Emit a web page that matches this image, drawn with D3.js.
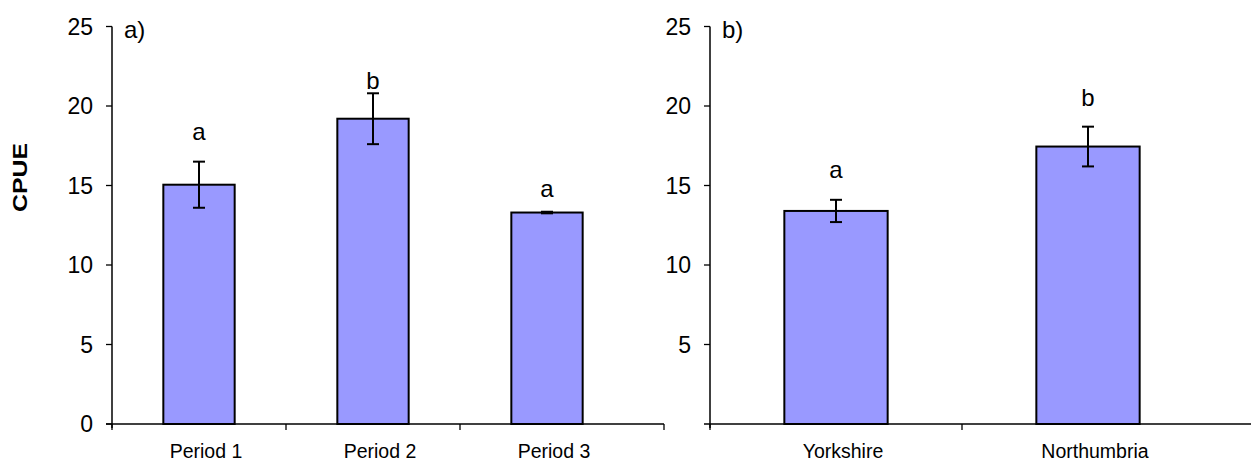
<!DOCTYPE html>
<html>
<head>
<meta charset="UTF-8">
<title>CPUE</title>
<script src="https://d3js.org/d3.v7.min.js"></script>
<style>
body { margin: 0; background: #fff; }
svg { display: block; font-family: Arial, "Liberation Sans", sans-serif; }
</style>
</head>
<body>
<script>
// panel a)
var periods = ["Period 1", "Period 2", "Period 3"];
var periodCpue = [15.05, 19.2, 13.3];
var periodErr = [1.45, 1.6, 0.05];
var periodSig = ["a", "b", "a"];
var periodSigAt = [17.85, 21.1, 14.3];   // CPUE level of each letter

// panel b)
var regions = ["Yorkshire", "Northumbria"];
var regionCpue = [13.4, 17.45];
var regionErr = [0.7, 1.25];
var regionSig = ["a", "b"];
var regionSigAt = [15.45, 20.0];

var yTicksA = [0, 5, 10, 15, 20, 25];
var yTicksB = [5, 10, 15, 20, 25];

var width = 1251, height = 462;
var svg = d3.select("body").append("svg")
    .attr("width", width)
    .attr("height", height);

var y = d3.scaleLinear().domain([0, 25]).range([424, 26.5]);

svg.append("text")
    .attr("transform", "translate(27,177.5) rotate(-90)")
    .attr("text-anchor", "middle")
    .attr("font-size", 21)
    .attr("font-weight", "bold")
    .attr("textLength", 69)
    .attr("lengthAdjust", "spacingAndGlyphs")
    .text("CPUE");

function panel(opts) {
  var g = svg.append("g");
  var x = d3.scaleBand().domain(opts.cats).range([opts.x0, opts.x1]);
  var bw = x.bandwidth() * 0.41;

  // y axis
  g.append("line")
      .attr("x1", opts.x0).attr("x2", opts.x0)
      .attr("y1", y(25)).attr("y2", y(0) + 4)
      .attr("stroke", "#000").attr("stroke-width", 1.5);
  g.selectAll(".yt").data(opts.yticks).enter().append("line")
      .attr("x1", opts.x0 - 6).attr("x2", opts.x0)
      .attr("y1", function(d) { return y(d); })
      .attr("y2", function(d) { return y(d); })
      .attr("stroke", "#000").attr("stroke-width", 1.3);
  g.selectAll(".yl").data(opts.yticks).enter().append("text")
      .attr("x", opts.x0 - 19)
      .attr("y", function(d) { return y(d) + 8; })
      .attr("text-anchor", "end")
      .attr("font-size", 23)
      .text(function(d) { return d; });

  // bars
  g.selectAll(".bar").data(opts.vals).enter().append("rect")
      .attr("x", function(d, i) { return x(opts.cats[i]) + (x.bandwidth() - bw) / 2; })
      .attr("y", function(d) { return y(d); })
      .attr("width", bw)
      .attr("height", function(d) { return y(0) - y(d); })
      .attr("fill", "#9999ff")
      .attr("stroke", "#000")
      .attr("stroke-width", 2);

  // x axis
  g.append("line")
      .attr("x1", opts.x0 - 6).attr("x2", opts.xEnd)
      .attr("y1", y(0)).attr("y2", y(0))
      .attr("stroke", "#000").attr("stroke-width", 1.5);
  var xt = opts.cats.map(function(c) { return x(c); }).concat(opts.endTick ? [opts.xEnd] : []);
  g.selectAll(".xt").data(xt).enter().append("line")
      .attr("x1", function(d) { return d; }).attr("x2", function(d) { return d; })
      .attr("y1", y(0)).attr("y2", y(0) + 6)
      .attr("stroke", "#000").attr("stroke-width", 1.3);
  g.selectAll(".xl").data(opts.cats).enter().append("text")
      .attr("x", function(d) { return x(d) + x.bandwidth() / 2 + 7; })
      .attr("y", 458)
      .attr("text-anchor", "middle")
      .attr("font-size", 19.5)
      .text(function(d) { return d; });

  // error bars
  opts.vals.forEach(function(v, i) {
    var cx = x(opts.cats[i]) + x.bandwidth() / 2;
    var e = opts.err[i];
    g.append("line").attr("x1", cx).attr("x2", cx)
        .attr("y1", y(v + e)).attr("y2", y(v - e))
        .attr("stroke", "#000").attr("stroke-width", 2);
    [v + e, v - e].forEach(function(t) {
      g.append("line").attr("x1", cx - 6).attr("x2", cx + 6)
          .attr("y1", y(t)).attr("y2", y(t))
          .attr("stroke", "#000").attr("stroke-width", 2);
    });
  });

  // significance letters
  g.selectAll(".sig").data(opts.sig).enter().append("text")
      .attr("x", function(d, i) { return x(opts.cats[i]) + x.bandwidth() / 2; })
      .attr("y", function(d, i) { return y(opts.sigAt[i]); })
      .attr("text-anchor", "middle")
      .attr("font-size", 24)
      .text(function(d) { return d; });

  g.append("text")
      .attr("x", opts.x0 + 12)
      .attr("y", 38)
      .attr("font-size", 24)
      .text(opts.title);
}

panel({ cats: periods, vals: periodCpue, err: periodErr, sig: periodSig, sigAt: periodSigAt,
        x0: 112, x1: 634, xEnd: 664, endTick: true, yticks: yTicksA, title: "a)" });
panel({ cats: regions, vals: regionCpue, err: regionErr, sig: regionSig, sigAt: regionSigAt,
        x0: 710, x1: 1214, xEnd: 1251, endTick: false, yticks: yTicksB, title: "b)" });
</script>
</body>
</html>
